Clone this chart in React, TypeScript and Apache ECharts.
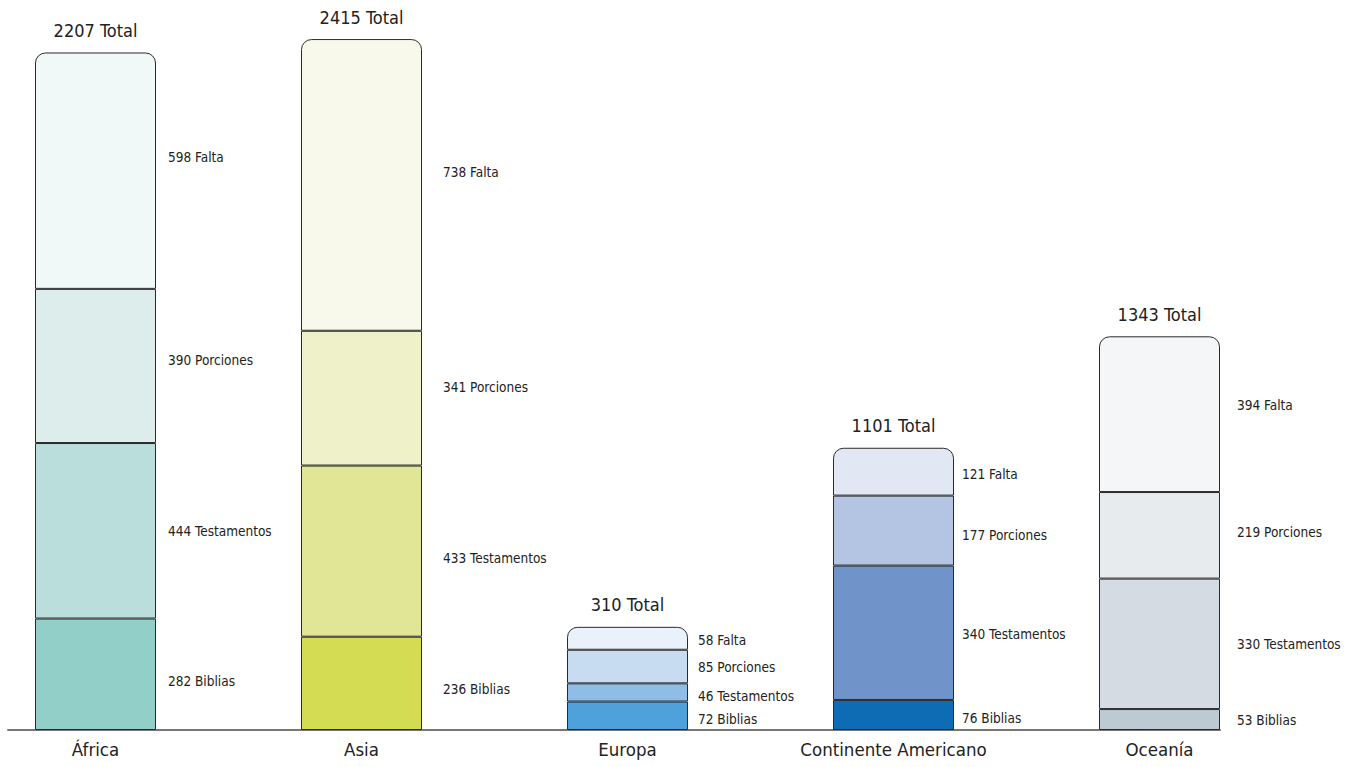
import React, { useEffect, useRef } from "react";
import * as echarts from "echarts";

const categories = ["África", "Asia", "Europa", "Continente Americano", "Oceanía"];
const biblias = [282, 236, 72, 76, 53];
const testamentos = [444, 433, 46, 340, 330];
const porciones = [390, 341, 85, 177, 219];
const falta = [598, 738, 58, 121, 394];
const totals = [2207, 2415, 310, 1101, 1343];

const bibliasColors = ["#92cfc8", "#d4dc54", "#4ea1da", "#0e6cb4", "#bdc9d3"];
const testamentosColors = ["#b9dedb", "#e1e596", "#8ebde6", "#7093c9", "#d5dbe2"];
const porcionesColors = ["#dcedeb", "#eff2c9", "#c7dcf1", "#b3c5e3", "#e8ebee"];
const faltaColors = ["#f1f8f8", "#f8f9eb", "#e9f1fa", "#e1e8f4", "#f5f6f8"];

// label layout tweaks (pixels)
const labelDistances = [12, 21, 10, 8, 17];
const bibliasDy = [7, 6, 3, 3, 0];
const testamentosDy = [0, 7, 4, 1, 0];
const porcionesDy = [-6, -11, 0, 4, -3];
const faltaDy = [-14, -13, 2, 2, -9];

const FONT = "'Liberation Sans Narrow', 'DejaVu Sans Condensed', 'Noto Sans', sans-serif";
const SHIFT = 38;

export default function App() {
  const ref = useRef<HTMLDivElement>(null);

  useEffect(() => {
    if (!ref.current) return;
    const chart = echarts.init(ref.current, undefined, { renderer: "svg" });

    const makeSeries = (
      name: string,
      values: number[],
      colors: string[],
      dys: number[],
      top: boolean
    ) => ({
      name,
      type: "bar",
      stack: "s",
      xAxisIndex: 0,
      yAxisIndex: 0,
      barWidth: 121,
      barGap: "-100%",
      data: values.map((v, i) => ({
        value: v,
        itemStyle: {
          color: colors[i],
          borderColor: "#2a2a2a",
          borderWidth: 1,
          borderRadius: top ? [10, 10, 0, 0] : 0,
        },
        label: { distance: labelDistances[i], offset: [0, dys[i]] },
      })),
      label: {
        show: true,
        position: "right",
        color: "#222",
        fontFamily: FONT,
        fontSize: 13.5,
        formatter: (p: any) => `${p.value} ${name}`,
      },
      z: 3,
    });

    const sums = categories.map((_, i) => biblias[i] + testamentos[i] + porciones[i] + falta[i]);

    chart.setOption({
      animation: false,
      grid: [
        { left: SHIFT - 37.5, width: 1330, top: 18.5, height: 711.5 },
        { left: SHIFT + 8, width: 1212, top: 18.5, height: 711.5 },
      ],
      xAxis: [
        {
          type: "category",
          gridIndex: 0,
          data: categories,
          axisLine: { show: false },
          axisTick: { show: false },
          axisLabel: { color: "#222", fontFamily: FONT, fontSize: 18.5, margin: 10, interval: 0 },
        },
        {
          type: "value",
          gridIndex: 1,
          min: 0,
          max: 1,
          axisLine: { show: true, lineStyle: { color: "#777", width: 2 } },
          axisTick: { show: false },
          axisLabel: { show: false },
          splitLine: { show: false },
        },
      ],
      yAxis: [
        { type: "value", gridIndex: 0, min: 0, max: 1800, show: false, splitLine: { show: false } },
        { type: "value", gridIndex: 1, min: 0, max: 1, show: false, splitLine: { show: false } },
      ],
      series: [
        makeSeries("Biblias", biblias, bibliasColors, bibliasDy, false),
        makeSeries("Testamentos", testamentos, testamentosColors, testamentosDy, false),
        makeSeries("Porciones", porciones, porcionesColors, porcionesDy, false),
        makeSeries("Falta", falta, faltaColors, faltaDy, true),
        {
          name: "Total",
          type: "bar",
          xAxisIndex: 0,
          yAxisIndex: 0,
          barWidth: 121,
          barGap: "-100%",
          silent: true,
          z: 1,
          data: sums,
          itemStyle: { color: "rgba(0,0,0,0)" },
          label: {
            show: true,
            position: "top",
            distance: 13,
            color: "#222",
            fontFamily: FONT,
            fontSize: 18,
            formatter: (p: any) => `${totals[p.dataIndex]} Total`,
          },
        },
      ],
    });

    return () => chart.dispose();
  }, []);

  return (
    <div
      ref={ref}
      style={{ position: "fixed", left: -SHIFT, top: 0, width: 1358 + SHIFT, height: 767, background: "#fff" }}
    />
  );
}
